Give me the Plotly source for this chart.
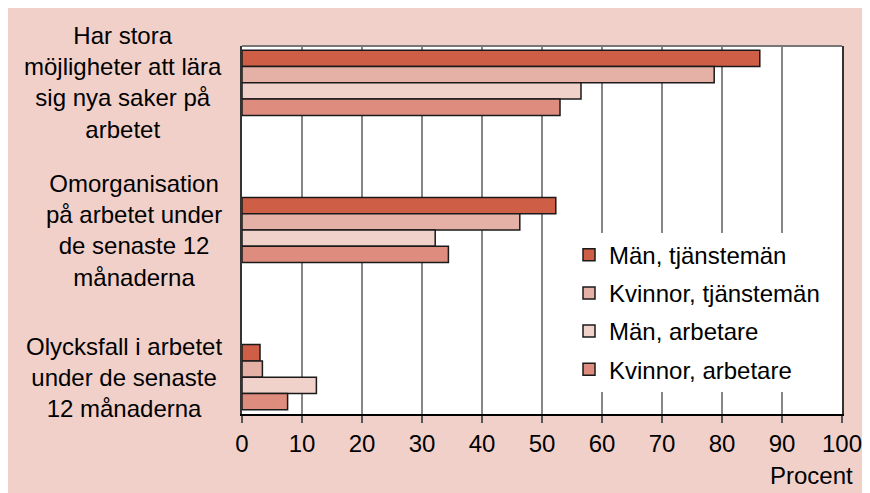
import plotly.graph_objects as go

categories = [
    "Har stora<br>möjligheter att lära<br>sig nya saker på<br>arbetet",
    "Omorganisation<br>på arbetet under<br>de senaste 12<br>månaderna",
    "Olycksfall i arbetet<br>under de senaste<br>12 månaderna",
]
series_names = ["Män, tjänstemän", "Kvinnor, tjänstemän", "Män, arbetare", "Kvinnor, arbetare"]
man_tjm = [86.3, 52.3, 3.0]
kvinnor_tjm = [78.7, 46.3, 3.4]
man_arb = [56.5, 32.2, 12.4]
kvinnor_arb = [53.0, 34.4, 7.6]
series_values = [man_tjm, kvinnor_tjm, man_arb, kvinnor_arb]
colors = ["#CF5E46", "#E5B0A5", "#F1D2CB", "#DD8C7E"]
x_ticks = list(range(0, 101, 10))

PINK = "#F1D0CA"
FONT = "Liberation Sans, Arial, sans-serif"
FS = 24

fig = go.Figure()
for name, vals, col in zip(series_names, series_values, colors):
    fig.add_trace(go.Bar(
        y=categories, x=vals, name=name, orientation="h",
        marker=dict(color=col, line=dict(color="#1a1a1a", width=1.5)),
        legendgroup=name,
    ))

annotations = []
for c in categories:
    annotations.append(dict(
        x=-0.03, y=c, xref="paper", yref="y", text=c, showarrow=False,
        xanchor="right", yanchor="middle", align="center",
        font=dict(size=FS, color="black", family=FONT),
    ))
annotations.append(dict(
    x=1.022, y=-0.166, xref="paper", yref="paper", text="Procent", showarrow=False,
    xanchor="right", yanchor="middle", font=dict(size=FS, color="black", family=FONT),
))

shapes = [
    dict(type="line", xref="paper", yref="paper", x0=0, x1=1, y0=1, y1=1,
         line=dict(color="#777777", width=2), layer="above"),
]

fig.update_layout(
    width=878, height=501,
    margin=dict(l=234, r=44, t=38, b=95),
    paper_bgcolor=PINK, plot_bgcolor="white",
    barmode="group", bargap=0.557, bargroupgap=0,
    font=dict(family=FONT, size=FS, color="black"),
    showlegend=True,
    legend=dict(
        x=0.545, y=0.493, xanchor="left", yanchor="top",
        bgcolor="white", borderwidth=0, traceorder="grouped",
        font=dict(size=FS, color="black", family=FONT),
        tracegroupgap=4,
    ),
    xaxis=dict(
        range=[0, 100], tickvals=x_ticks, ticktext=[str(v) for v in x_ticks],
        showgrid=True, gridcolor="#858585", gridwidth=1.5,
        ticks="outside", ticklen=7, tickcolor="#555555", tickwidth=1.5,
        showline=True, linecolor="black", linewidth=1.5,
        zeroline=False, fixedrange=True,
        tickfont=dict(size=FS, color="black", family=FONT),
    ),
    yaxis=dict(
        range=[2.25, -0.25], showticklabels=False, showgrid=False,
        showline=True, linecolor="#333333", linewidth=1.5, mirror=True,
        ticks="", zeroline=False,
    ),
    annotations=annotations,
    shapes=shapes,
)

fig.write_html(
    "out.html",
    post_script="document.documentElement.style.overflow='hidden';document.body.style.overflow='hidden';",
)
